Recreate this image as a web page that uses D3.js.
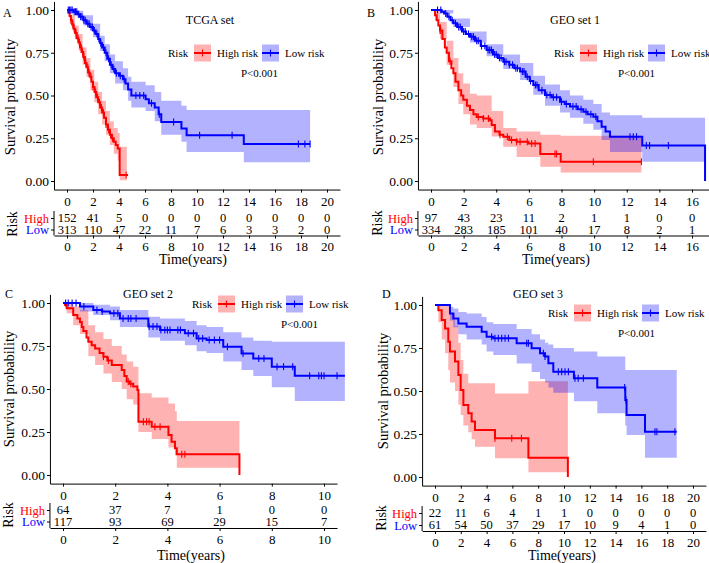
<!DOCTYPE html>
<html>
<head>
<meta charset="utf-8">
<script src="https://cdn.jsdelivr.net/npm/d3@7"></script>
<style>
  body { margin: 0; background: #fff; }
</style>
</head>
<body>
<svg id="chart" width="709" height="563"></svg>
<script>
// ---------- data ----------
// KM steps: [time, survival]; CI: [time, lower, upper]; censor marks: times

// A. TCGA set
const tcgaHigh = [[0,1],[0.1,0.985],[0.2,0.965],[0.3,0.94],[0.4,0.915],[0.5,0.89],[0.62,0.865],[0.75,0.835],[0.88,0.81],[1.0,0.78],[1.12,0.755],[1.25,0.725],[1.38,0.69],[1.5,0.665],[1.62,0.635],[1.75,0.61],[1.88,0.58],[2.0,0.55],[2.12,0.52],[2.25,0.49],[2.4,0.46],[2.55,0.43],[2.7,0.40],[2.85,0.37],[3.0,0.33],[3.15,0.30],[3.3,0.27],[3.45,0.25],[3.6,0.23],[3.75,0.21],[3.9,0.19],[4.05,0.035],[4.7,0.035]];
const tcgaHighCI = [[0,1,1],[0.3,0.91,0.97],[0.6,0.83,0.91],[0.9,0.76,0.86],[1.2,0.68,0.78],[1.5,0.61,0.72],[1.8,0.53,0.65],[2.1,0.46,0.58],[2.4,0.39,0.52],[2.7,0.33,0.47],[3.0,0.27,0.41],[3.3,0.21,0.35],[3.6,0.16,0.31],[3.9,0.12,0.28],[4.05,0.005,0.2],[4.6,0.005,0.2]];
const tcgaHighCens = [0.3,0.45,0.55,0.7,0.85,0.95,1.1,1.2,1.3,1.45,1.6,1.7,1.85,2.0,2.2,2.35,2.5,2.65,2.8,3.0,3.2,3.35,3.5,4.55];
const tcgaLow = [[0,1],[0.5,0.99],[0.8,0.975],[1.0,0.96],[1.25,0.94],[1.5,0.92],[1.75,0.9],[2.0,0.88],[2.2,0.86],[2.4,0.83],[2.55,0.805],[2.7,0.78],[2.9,0.75],[3.1,0.715],[3.3,0.68],[3.5,0.655],[3.7,0.63],[4.0,0.615],[4.3,0.595],[4.5,0.57],[4.7,0.535],[4.95,0.5],[6.05,0.478],[6.3,0.455],[6.75,0.43],[7.05,0.39],[7.25,0.345],[8.8,0.307],[9.2,0.268],[13.6,0.216],[18.7,0.216]];
const tcgaLowCI = [[0,1,1],[0.8,0.955,0.995],[1.25,0.91,0.97],[2.0,0.84,0.92],[2.55,0.76,0.85],[2.9,0.70,0.80],[3.3,0.63,0.74],[3.7,0.57,0.70],[4.3,0.53,0.66],[4.7,0.47,0.61],[4.95,0.43,0.58],[6.05,0.41,0.56],[6.75,0.35,0.52],[7.25,0.27,0.47],[8.8,0.23,0.44],[9.2,0.17,0.415],[13.6,0.11,0.415],[18.7,0.11,0.415]];
const tcgaLowCens = [0.1,0.2,0.3,0.4,0.55,0.65,0.75,0.9,1.05,1.15,1.3,1.4,1.6,1.7,1.85,1.95,2.1,2.3,2.45,2.6,2.8,3.0,3.2,3.4,3.6,3.8,4.1,4.4,5.3,5.6,5.9,6.5,7.1,8.2,10.2,12.7,17.8,18.3,18.7];
const tcgaTimes = [0,2,4,6,8,10,12,14,16,18,20];
const tcgaRiskHigh = [152,41,5,0,0,0,0,0,0,0,0];
const tcgaRiskLow = [313,110,47,22,11,7,6,3,3,2,0];

// B. GEO set 1
const geo1High = [[0,1],[0.25,0.97],[0.35,0.94],[0.45,0.91],[0.55,0.88],[0.7,0.83],[0.85,0.78],[0.96,0.75],[1.1,0.7],[1.25,0.66],[1.37,0.63],[1.5,0.58],[1.68,0.53],[1.85,0.5],[1.98,0.475],[2.2,0.44],[2.39,0.415],[2.6,0.39],[2.8,0.375],[3.2,0.365],[3.62,0.355],[3.72,0.327],[3.92,0.29],[4.2,0.27],[4.43,0.259],[4.8,0.24],[5.25,0.23],[5.97,0.22],[6.7,0.158],[7.95,0.113],[12.9,0.113]];
const geo1HighCI = [[0,1,1],[0.25,0.94,1.0],[0.55,0.83,0.93],[0.96,0.68,0.82],[1.37,0.55,0.72],[1.68,0.45,0.63],[1.98,0.39,0.57],[2.39,0.33,0.51],[2.8,0.31,0.5],[3.72,0.26,0.41],[4.43,0.2,0.31],[5.25,0.14,0.29],[6.7,0.083,0.27],[7.95,0.049,0.265],[12.9,0.049,0.265]];
const geo1HighCens = [0.55,0.6,1.17,2.9,3.21,3.52,4.23,4.68,4.94,5.25,5.46,5.9,6.17,6.38,7.6,7.7,9.95,12.9];
const geo1Low = [[0,1],[0.65,0.99],[0.8,0.98],[1.0,0.96],[1.2,0.94],[1.37,0.922],[1.6,0.9],[1.9,0.875],[2.15,0.86],[2.39,0.844],[2.7,0.82],[3.05,0.79],[3.41,0.766],[3.8,0.74],[4.1,0.72],[4.43,0.698],[4.8,0.68],[5.1,0.66],[5.46,0.64],[5.8,0.61],[6.05,0.585],[6.27,0.561],[6.6,0.53],[6.99,0.503],[7.4,0.49],[7.91,0.464],[8.2,0.45],[8.52,0.435],[9.0,0.42],[9.34,0.405],[9.6,0.39],[9.95,0.376],[10.2,0.35],[10.46,0.317],[10.7,0.29],[10.97,0.259],[12.95,0.207],[16.8,0]];
const geo1LowCI = [[0,1,1],[0.65,0.98,1.0],[1.37,0.9,0.95],[2.39,0.81,0.875],[3.41,0.73,0.8],[4.43,0.655,0.74],[5.46,0.59,0.69],[6.27,0.505,0.615],[6.99,0.44,0.565],[7.91,0.4,0.53],[8.52,0.37,0.5],[9.34,0.335,0.475],[9.95,0.3,0.45],[10.46,0.24,0.4],[10.97,0.17,0.385],[12.95,0.113,0.37],[16.8,0.113,0.37]];
const geo1LowCens = [0.4,0.6,0.9,1.1,1.3,1.5,1.7,1.8,2.0,2.1,2.3,2.5,2.6,2.8,2.9,3.1,3.3,3.5,3.6,3.7,3.9,4.0,4.2,4.3,4.5,4.6,4.8,5.0,5.2,5.3,5.6,5.7,5.9,6.1,6.4,6.5,6.8,7.1,7.3,7.5,7.7,8.0,8.3,8.7,8.9,9.2,9.5,9.8,10.1,12.2,12.4,12.6,13.2,13.4,14.55];
const geo1Times = [0,2,4,6,8,10,12,14,16];
const geo1RiskHigh = [97,43,23,11,2,1,1,0,0];
const geo1RiskLow = [334,283,185,101,40,17,8,2,1];

// C. GEO set 2
const geo2High = [[0,1],[0.08,0.988],[0.14,0.97],[0.39,0.93],[0.55,0.91],[0.65,0.89],[0.72,0.86],[0.78,0.837],[0.9,0.8],[0.97,0.775],[1.1,0.755],[1.23,0.736],[1.4,0.71],[1.55,0.688],[1.7,0.665],[1.87,0.64],[2.25,0.61],[2.35,0.575],[2.44,0.543],[2.55,0.53],[2.69,0.514],[2.85,0.494],[2.89,0.31],[3.4,0.28],[4.04,0.233],[4.16,0.194],[4.29,0.155],[4.36,0.12],[6.76,0]];
const geo2HighCI = [[0,1,1],[0.14,0.94,1.0],[0.39,0.87,0.98],[0.65,0.82,0.96],[0.97,0.69,0.87],[1.23,0.64,0.83],[1.55,0.59,0.79],[1.87,0.54,0.75],[2.25,0.5,0.7],[2.44,0.44,0.66],[2.69,0.41,0.63],[2.89,0.25,0.475],[3.4,0.21,0.45],[4.04,0.16,0.415],[4.29,0.115,0.37],[4.36,0.042,0.314],[6.76,0.042,0.314]];
const geo2HighCens = [1.55,1.74,2.5,2.6,3.08,3.2,3.3,3.52,3.72,4.55,4.67];
const geo2Low = [[0,1],[0.65,0.98],[1.16,0.96],[1.5,0.95],[1.8,0.94],[2.18,0.91],[3.27,0.863],[3.72,0.843],[4.67,0.824],[5.12,0.794],[5.5,0.785],[6.14,0.746],[6.84,0.707],[7.29,0.678],[8.0,0.63],[8.88,0.577],[10.8,0.577]];
const geo2LowCI = [[0,1,1],[0.65,0.95,1.0],[1.16,0.93,0.99],[1.8,0.9,0.98],[2.18,0.86,0.96],[3.27,0.8,0.92],[3.72,0.78,0.91],[4.67,0.755,0.895],[5.12,0.72,0.87],[5.5,0.71,0.86],[6.14,0.66,0.83],[6.84,0.61,0.8],[7.29,0.575,0.78],[8.0,0.51,0.775],[8.88,0.43,0.775],[10.8,0.43,0.775]];
const geo2LowCens = [0.1,0.2,0.35,0.5,0.8,1.3,1.5,1.95,2.1,2.3,2.5,2.6,2.8,3.3,3.45,3.6,3.75,3.9,4.0,4.1,4.4,4.5,4.8,5.0,5.2,5.35,5.6,5.8,6.0,6.3,6.9,7.5,7.7,8.2,8.45,8.8,9.45,9.8,9.9,10.0,10.5];
const geo2Times = [0,2,4,6,8,10];
const geo2RiskHigh = [64,37,7,1,0,0];
const geo2RiskLow = [117,93,69,29,15,7];

// D. GEO set 3
const geo3High = [[0,1],[0.26,0.97],[0.52,0.913],[0.78,0.864],[1.03,0.787],[1.16,0.729],[1.55,0.671],[1.81,0.593],[1.99,0.506],[2.2,0.419],[2.58,0.37],[2.84,0.322],[3.1,0.273],[4.65,0.225],[7.24,0.112],[10.3,0]];
const geo3HighCI = [[0,1,1],[0.26,0.9,1.0],[0.52,0.8,1.0],[0.78,0.72,1.0],[1.03,0.62,1.0],[1.16,0.55,0.95],[1.55,0.5,0.88],[1.81,0.42,0.78],[1.99,0.36,0.68],[2.2,0.3,0.6],[2.58,0.26,0.545],[2.84,0.22,0.545],[3.1,0.176,0.545],[4.65,0.109,0.486],[7.24,0.028,0.556],[10.3,0.028,0.556]];
const geo3HighCens = [4.65,5.95,6.7];
const geo3Low = [[0,1],[1.16,0.951],[1.42,0.922],[1.81,0.893],[2.45,0.874],[3.62,0.845],[4.0,0.816],[4.52,0.806],[6.33,0.777],[7.49,0.748],[8.14,0.719],[8.53,0.7],[8.79,0.661],[9.17,0.612],[10.77,0.574],[12.58,0.52],[14.75,0.448],[14.85,0.36],[16.28,0.263],[18.74,0.263]];
const geo3LowCI = [[0,1,1],[1.16,0.91,0.99],[1.42,0.87,0.98],[1.81,0.83,0.96],[2.45,0.8,0.95],[3.62,0.77,0.93],[4.0,0.73,0.9],[4.52,0.71,0.89],[6.33,0.66,0.86],[7.49,0.61,0.83],[8.14,0.57,0.8],[8.53,0.55,0.78],[8.79,0.52,0.77],[9.17,0.49,0.75],[10.77,0.44,0.73],[12.58,0.37,0.7],[14.75,0.3,0.622],[14.85,0.244,0.622],[16.28,0.112,0.622],[18.74,0.112,0.622]];
const geo3LowCens = [4.39,4.65,4.91,5.17,5.43,5.69,7.11,7.24,8.4,8.53,9.56,9.82,10.08,10.34,10.85,11.1,11.5,14.7,14.8,17.05,17.2,18.6];
const geo3Times = [0,2,4,6,8,10,12,14,16,18,20];
const geo3RiskHigh = [22,11,6,4,1,1,0,0,0,0,0];
const geo3RiskLow = [61,54,50,37,29,17,10,9,4,1,0];

const survTicks = [0, 0.25, 0.5, 0.75, 1];
const groupNames = ["High risk", "Low risk"];
const rowNames = ["High", "Low"];

// ---------- drawing ----------
const RED = "#FF0000", BLUE = "#0000FF";
const FONT = '"Liberation Serif","Times New Roman",serif';
const svg = d3.select("#chart").attr("font-family", FONT);

const panels = [
  { tag: "A", title: "TCGA set", times: tcgaTimes, risk: [tcgaRiskHigh, tcgaRiskLow],
    series: [{ steps: tcgaHigh, ci: tcgaHighCI, cens: tcgaHighCens, color: RED },
             { steps: tcgaLow, ci: tcgaLowCI, cens: tcgaLowCens, color: BLUE }],
    L: { xMax: 20, x0: 67, x1: 327, ext: [-1, 21], y0: 181, y1: 10,
         rowH: 218, rowL: 229.5, tAxis: 235.5, timeX: 193, timeY: 259,
         ylabX: 10, ylabY: 97, riskX: 12, riskY: 224, tagX: 3, tagY: 13,
         titleX: 210, titleY: 20, legX: 168, legY: 53, pX: 241, pY: 73 } },
  { tag: "B", title: "GEO set 1", times: geo1Times, risk: [geo1RiskHigh, geo1RiskLow],
    series: [{ steps: geo1High, ci: geo1HighCI, cens: geo1HighCens, color: RED },
             { steps: geo1Low, ci: geo1LowCI, cens: geo1LowCens, color: BLUE }],
    L: { xMax: 16, x0: 431, x1: 692, ext: [-0.8, 17.7], y0: 181, y1: 10,
         rowH: 218, rowL: 229.5, tAxis: 235.5, timeX: 556, timeY: 259,
         ylabX: 378, ylabY: 97, riskX: 377, riskY: 223, tagX: 367, tagY: 13,
         titleX: 575, titleY: 20, legX: 554, legY: 53, pX: 618, pY: 73 } },
  { tag: "C", title: "GEO set 2", times: geo2Times, risk: [geo2RiskHigh, geo2RiskLow],
    series: [{ steps: geo2High, ci: geo2HighCI, cens: geo2HighCens, color: RED },
             { steps: geo2Low, ci: geo2LowCI, cens: geo2LowCens, color: BLUE }],
    L: { xMax: 10, x0: 63, x1: 324, ext: [-0.5, 10.5], y0: 475, y1: 303,
         rowH: 510, rowL: 521.5, tAxis: 528, timeX: 191, timeY: 555,
         ylabX: 9, ylabY: 389, riskX: 8, riskY: 515, tagX: 5, tagY: 294,
         titleX: 148, titleY: 294, legX: 192, legY: 304, pX: 281, pY: 324 } },
  { tag: "D", title: "GEO set 3", times: geo3Times, risk: [geo3RiskHigh, geo3RiskLow],
    series: [{ steps: geo3High, ci: geo3HighCI, cens: geo3HighCens, color: RED },
             { steps: geo3Low, ci: geo3LowCI, cens: geo3LowCens, color: BLUE }],
    L: { xMax: 20, x0: 435, x1: 693, ext: [-1, 21], y0: 477, y1: 305,
         rowH: 513, rowL: 525, tAxis: 531, timeX: 562, timeY: 555,
         ylabX: 383, ylabY: 391, riskX: 381, riskY: 518, tagX: 382, tagY: 294,
         titleX: 538, titleY: 294, legX: 548, legY: 313, pX: 618, pY: 333 } }
];

function stepAt(steps, t) {
  let v = steps[0][1];
  for (const d of steps) { if (d[0] <= t) v = d[1]; else break; }
  return v;
}

function styleAxis(sel, size) {
  sel.attr("font-family", FONT).attr("font-size", size);
  sel.selectAll("path, line").attr("stroke", "#000").attr("stroke-width", 1);
  sel.selectAll("text").attr("fill", "#000");
}

function drawPanel(p) {
  const L = p.L;
  const x = d3.scaleLinear().domain([0, L.xMax]).range([L.x0, L.x1]);
  const y = d3.scaleLinear().domain([0, 1]).range([L.y0, L.y1]);
  const xAx = x.copy().domain(L.ext).range(L.ext.map(x));
  const yAx = y.copy().domain([-0.05, 1.05]).range([y(-0.05), y(1.05)]);
  const left = xAx.range()[0], base = yAx.range()[0];
  const g = svg.append("g");

  const area = d3.area().x(d => x(d[0])).y0(d => y(d[1])).y1(d => y(d[2])).curve(d3.curveStepAfter);
  const line = d3.line().x(d => x(d[0])).y(d => y(d[1])).curve(d3.curveStepAfter);

  p.series.forEach(s => {
    g.append("path").attr("d", area(s.ci)).attr("fill", s.color).attr("fill-opacity", 0.3);
  });
  p.series.forEach(s => {
    g.append("path").attr("d", line(s.steps)).attr("fill", "none")
      .attr("stroke", s.color).attr("stroke-width", 2);
    g.append("g").selectAll("line").data(s.cens).join("line")
      .attr("x1", d => x(d)).attr("x2", d => x(d))
      .attr("y1", d => y(stepAt(s.steps, d)) - 3.5)
      .attr("y2", d => y(stepAt(s.steps, d)) + 3.5)
      .attr("stroke", s.color).attr("stroke-width", 1.1);
  });

  // plot axes
  g.append("g").attr("transform", `translate(${left},0)`)
    .call(d3.axisLeft(yAx).tickValues(survTicks).tickFormat(d3.format(".2f"))
      .tickSizeInner(3).tickSizeOuter(0).tickPadding(2))
    .call(s => styleAxis(s, 13.5));
  g.append("g").attr("transform", `translate(0,${base})`)
    .call(d3.axisBottom(xAx).tickValues(p.times).tickSizeInner(3).tickSizeOuter(0))
    .call(s => styleAxis(s, 13))
    .call(s => s.selectAll("text").attr("y", 12).attr("dy", "0.35em"));

  // risk table
  const ry = d3.scalePoint().domain(rowNames).range([L.rowH, L.rowL]);
  g.append("g").attr("transform", `translate(0,${L.tAxis})`)
    .call(d3.axisBottom(xAx).tickValues(p.times).tickSizeInner(3).tickSizeOuter(0))
    .call(s => styleAxis(s, 13))
    .call(s => s.selectAll("text").attr("y", 11).attr("dy", "0.35em"));
  const ra = g.append("g").attr("transform", `translate(${left},0)`)
    .call(d3.axisLeft(ry).tickSizeInner(3).tickSizeOuter(0).tickPadding(2))
    .call(s => styleAxis(s, 12.5));
  ra.select(".domain").remove();
  ra.selectAll(".tick text").attr("fill", d => d === "High" ? RED : BLUE);
  ra.append("line").attr("x1", 0).attr("x2", 0)
    .attr("y1", L.rowH - 7).attr("y2", L.tAxis).attr("stroke", "#000");
  rowNames.forEach((r, k) => {
    g.append("g").selectAll("text").data(p.risk[k]).join("text")
      .attr("x", (d, i) => x(p.times[i])).attr("y", ry(r)).attr("dy", "0.35em")
      .attr("text-anchor", "middle").attr("font-size", 12.5).text(d => d);
  });

  // titles and labels
  g.append("text").attr("transform", `translate(${L.ylabX},${L.ylabY}) rotate(-90)`)
    .attr("text-anchor", "middle").attr("dy", "0.35em").attr("font-size", 14.5)
    .text("Survival probability");
  g.append("text").attr("transform", `translate(${L.riskX},${L.riskY}) rotate(-90)`)
    .attr("text-anchor", "middle").attr("dy", "0.35em").attr("font-size", 14)
    .text("Risk");
  g.append("text").attr("x", L.timeX).attr("y", L.timeY).attr("dy", "0.35em")
    .attr("text-anchor", "middle").attr("font-size", 14).text("Time(years)");
  g.append("text").attr("x", L.tagX).attr("y", L.tagY).attr("dy", "0.35em")
    .attr("font-size", 12).text(p.tag);
  g.append("text").attr("x", L.titleX).attr("y", L.titleY).attr("dy", "0.35em")
    .attr("text-anchor", "middle").attr("font-size", 12).text(p.title);
  g.append("text").attr("x", L.pX).attr("y", L.pY).attr("dy", "0.35em")
    .attr("font-size", 11).text("P<0.001");

  // legend
  const lg = g.append("g").attr("transform", `translate(${L.legX},${L.legY})`).attr("font-size", 11);
  lg.append("text").attr("x", 0).attr("dy", "0.35em").text("Risk");
  const keyX = [26, 94];
  p.series.forEach((s, i) => {
    const k = lg.append("g").attr("transform", `translate(${keyX[i]},0)`);
    k.append("rect").attr("x", 0).attr("y", -8.5).attr("width", 17).attr("height", 17)
      .attr("fill", s.color).attr("fill-opacity", 0.3);
    k.append("line").attr("x1", 0).attr("x2", 17).attr("stroke", s.color).attr("stroke-width", 2);
    k.append("line").attr("x1", 8.5).attr("x2", 8.5).attr("y1", -3.5).attr("y2", 3.5)
      .attr("stroke", s.color).attr("stroke-width", 1.1);
    k.append("text").attr("x", 23).attr("dy", "0.35em").text(groupNames[i]);
  });
}

panels.forEach(drawPanel);
</script>
</body>
</html>
